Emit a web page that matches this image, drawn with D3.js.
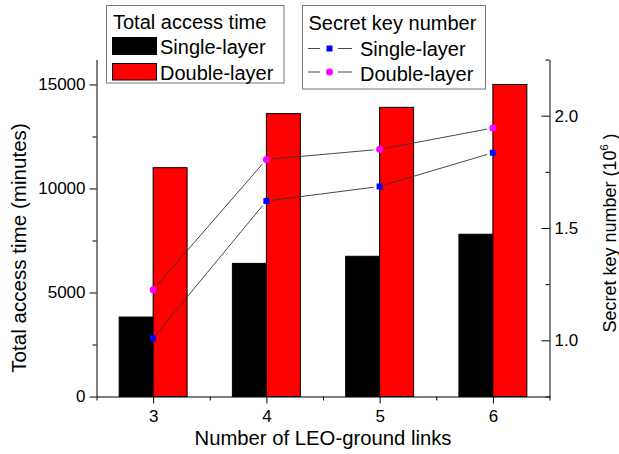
<!DOCTYPE html>
<html>
<head>
<meta charset="utf-8">
<script src="https://cdn.jsdelivr.net/npm/d3@7"></script>
<style>
  html, body { margin: 0; padding: 0; background: #fff; }
  svg { display: block; font-family: "Liberation Sans", Arial, sans-serif; }
</style>
</head>
<body>
<svg id="chart" width="619" height="454"></svg>
<script>
// Number of LEO-ground links
const links = [3, 4, 5, 6];
// Total access time (minutes)
const accessSingle = [3820, 6400, 6740, 7800];
const accessDouble = [11000, 13600, 13900, 15000];
// Secret key number (10^6)
const keySingle = [1.01, 1.62, 1.685, 1.835];
const keyDouble = [1.225, 1.805, 1.85, 1.945];

const xMajor = [3, 4, 5, 6];
const xMinor = [2.5, 3.5, 4.5, 5.5, 6.5];
const leftMajor = [0, 5000, 10000, 15000];
const leftMinor = [2500, 7500, 12500];
const rightMajor = [1.0, 1.5, 2.0];
const rightMinor = [0.75, 1.25, 1.75, 2.25];

const svg = d3.select("#chart");
const L = 96.5, R = 549.5, T = 59.5, B = 396.5;

const x = d3.scaleLinear().domain([2.5, 6.5]).range([L, R]);
const yL = d3.scaleLinear().domain([0, 16200]).range([B, T]);
const yR = d3.scaleLinear().domain([0.75, 2.25]).range([B, T]);
const barW = 0.3;

// bars
const g = svg.append("g");
g.selectAll("rect.single").data(links).join("rect")
  .attr("x", (d) => x(d - barW))
  .attr("y", (d, i) => yL(accessSingle[i]))
  .attr("width", (d) => x(d) - x(d - barW))
  .attr("height", (d, i) => yL(0) - yL(accessSingle[i]))
  .attr("fill", "#000").attr("stroke", "#000").attr("stroke-width", 1);
g.selectAll("rect.double").data(links).join("rect")
  .attr("x", (d) => x(d))
  .attr("y", (d, i) => yL(accessDouble[i]))
  .attr("width", (d) => x(d + barW) - x(d))
  .attr("height", (d, i) => yL(0) - yL(accessDouble[i]))
  .attr("fill", "#ff0000").attr("stroke", "#000").attr("stroke-width", 1);

// connecting lines with small gaps around the markers
function gappedLine(vals, gap) {
  for (let i = 0; i < vals.length - 1; i++) {
    const x1 = x(links[i]), y1 = yR(vals[i]);
    const x2 = x(links[i + 1]), y2 = yR(vals[i + 1]);
    const len = Math.hypot(x2 - x1, y2 - y1);
    const ux = (x2 - x1) / len, uy = (y2 - y1) / len;
    g.append("line")
      .attr("x1", x1 + ux * gap).attr("y1", y1 + uy * gap)
      .attr("x2", x2 - ux * gap).attr("y2", y2 - uy * gap)
      .attr("stroke", "#333").attr("stroke-width", 0.9);
  }
}
gappedLine(keySingle, 6);
gappedLine(keyDouble, 6);

g.selectAll("rect.ms").data(links).join("rect")
  .attr("x", (d) => x(d) - 3).attr("y", (d, i) => yR(keySingle[i]) - 3)
  .attr("width", 6).attr("height", 6).attr("fill", "#0000ff");
g.selectAll("circle.md").data(links).join("circle")
  .attr("cx", (d) => x(d)).attr("cy", (d, i) => yR(keyDouble[i]))
  .attr("r", 3.5).attr("fill", "#ff00ff");

// axes
const axisStyle = (sel) => {
  sel.select(".domain").attr("stroke", "#000");
  sel.selectAll(".tick line").attr("stroke", "#000");
  sel.selectAll(".tick text").attr("font-size", 17).attr("fill", "#000")
    .attr("font-family", "Liberation Sans, Arial, sans-serif");
};

// bottom
svg.append("g").attr("transform", `translate(0,${B})`)
  .call(d3.axisBottom(x).tickValues(xMinor).tickSize(4).tickSizeOuter(0).tickFormat(""))
  .call(axisStyle);
svg.append("g").attr("transform", `translate(0,${B})`)
  .call(d3.axisBottom(x).tickValues(xMajor).tickSize(7).tickSizeOuter(0).tickPadding(6).tickFormat(d3.format("d")))
  .call(axisStyle).call((s) => s.select(".domain").remove());

// left
svg.append("g").attr("transform", `translate(${L},0)`)
  .call(d3.axisLeft(yL).tickValues(leftMinor).tickSize(4).tickSizeOuter(0).tickFormat(""))
  .call(axisStyle);
svg.append("g").attr("transform", `translate(${L},0)`)
  .call(d3.axisLeft(yL).tickValues(leftMajor).tickSize(7).tickSizeOuter(0).tickPadding(4).tickFormat(d3.format("d")))
  .call(axisStyle).call((s) => s.select(".domain").remove());

// right (ticks point inward, labels outside)
const rMinor = svg.append("g").attr("transform", `translate(${R},0)`)
  .call(d3.axisRight(yR).tickValues(rightMinor).tickSize(4).tickSizeOuter(0).tickFormat(""))
  .call(axisStyle);
rMinor.selectAll(".tick line").attr("x2", -4);
const rMajor = svg.append("g").attr("transform", `translate(${R},0)`)
  .call(d3.axisRight(yR).tickValues(rightMajor).tickSize(0).tickSizeOuter(0).tickPadding(5).tickFormat(d3.format(".1f")))
  .call(axisStyle).call((s) => s.select(".domain").remove());
rMajor.selectAll(".tick line").attr("x2", -8);

// axis titles
svg.append("text").attr("x", (L + R) / 2).attr("y", 445)
  .attr("text-anchor", "middle").attr("font-size", 20.3).text("Number of LEO-ground links");
svg.append("text").attr("transform", `translate(26,${(T + B) / 2 + 20}) rotate(-90)`)
  .attr("text-anchor", "middle").attr("font-size", 20.6).text("Total access time (minutes)");
const rt = svg.append("text").attr("transform", `translate(616,233) rotate(-90)`)
  .attr("text-anchor", "middle").attr("font-size", 18);
rt.append("tspan").text("Secret key number (10");
rt.append("tspan").attr("font-size", 11).attr("dy", -8).text("6");
rt.append("tspan").attr("dy", 8).text(" )");

// legend: total access time
const lg1 = svg.append("g");
lg1.append("rect").attr("x", 106.5).attr("y", 5.5).attr("width", 177.5).attr("height", 77.5)
  .attr("fill", "#fff").attr("stroke", "#777");
lg1.append("text").attr("x", 113).attr("y", 28.5).attr("font-size", 20).text("Total access time");
lg1.append("rect").attr("x", 112.5).attr("y", 37.5).attr("width", 44).attr("height", 17)
  .attr("fill", "#000").attr("stroke", "#000");
lg1.append("text").attr("x", 160).attr("y", 53.5).attr("font-size", 20).text("Single-layer");
lg1.append("rect").attr("x", 112.5).attr("y", 63.5).attr("width", 44).attr("height", 16.5)
  .attr("fill", "#ff0000").attr("stroke", "#000");
lg1.append("text").attr("x", 160).attr("y", 79.5).attr("font-size", 20).text("Double-layer");

// legend: secret key number
const lg2 = svg.append("g");
lg2.append("rect").attr("x", 302.5).attr("y", 5.5).attr("width", 183).attr("height", 83.5)
  .attr("fill", "#fff").attr("stroke", "#777");
lg2.append("text").attr("x", 308.5).attr("y", 30).attr("font-size", 20).text("Secret key number");
[[48.5, "sq", "Single-layer", 55.5], [72, "ci", "Double-layer", 80.5]].forEach(([yy, m, label, by]) => {
  lg2.append("line").attr("x1", 308).attr("x2", 320).attr("y1", yy).attr("y2", yy)
    .attr("stroke", "#333").attr("stroke-width", 0.9);
  lg2.append("line").attr("x1", 338).attr("x2", 352).attr("y1", yy).attr("y2", yy)
    .attr("stroke", "#333").attr("stroke-width", 0.9);
  if (m === "sq") {
    lg2.append("rect").attr("x", 326.5).attr("y", yy - 3).attr("width", 6).attr("height", 6).attr("fill", "#0000ff");
  } else {
    lg2.append("circle").attr("cx", 329.5).attr("cy", yy).attr("r", 3.5).attr("fill", "#ff00ff");
  }
  lg2.append("text").attr("x", 360).attr("y", by).attr("font-size", 20).text(label);
});
</script>
</body>
</html>
